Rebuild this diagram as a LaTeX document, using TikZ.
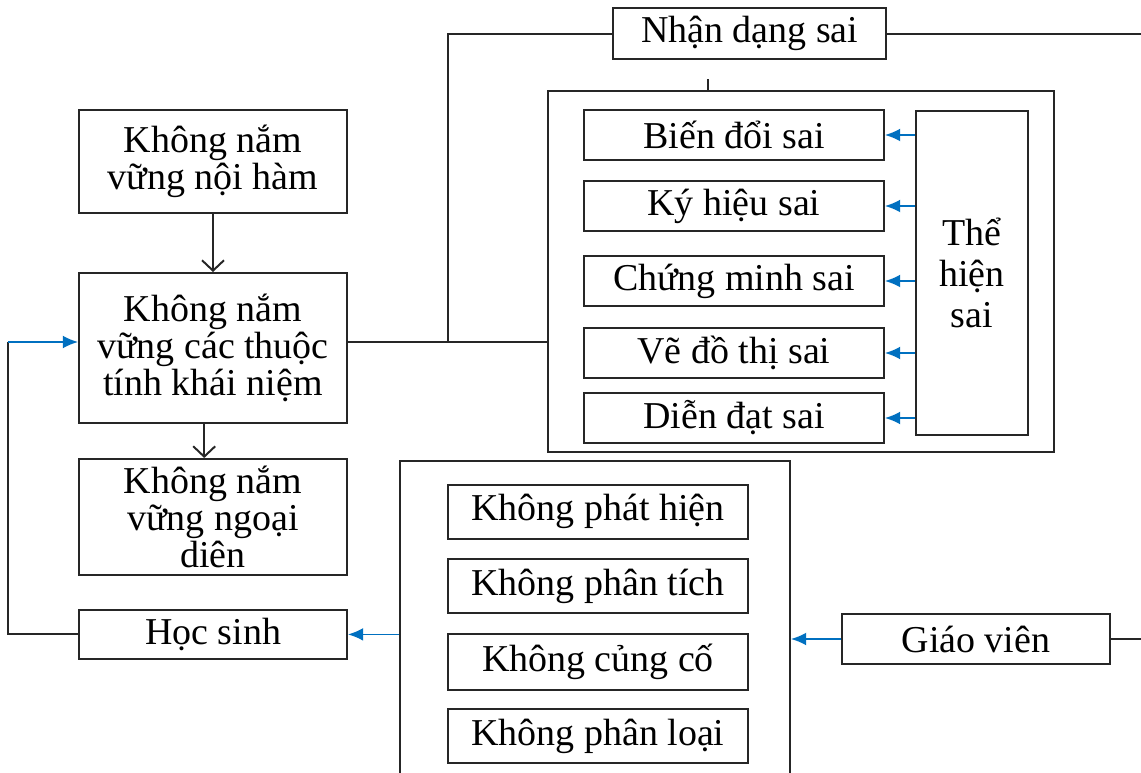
\documentclass[tikz,border=0pt]{standalone}
\usepackage{fontspec}
\setmainfont{Liberation Serif}
\usetikzlibrary{arrows.meta, positioning}
\definecolor{arrowblue}{RGB}{0,112,192}

\begin{document}
\begin{tikzpicture}[
    box/.style={rectangle, draw=black!85, line width=1.4pt, align=center, inner sep=2pt, font=\fontsize{27}{26.5}\selectfont},
    leftbox/.style={box, minimum width=6.7cm},
    errbox/.style={box, minimum width=7.5cm, minimum height=1.25cm},
    groupbox/.style={rectangle, draw=black!85, line width=1.4pt},
    link/.style={draw=black!85, line width=1.4pt},
    downflow/.style={link, -{Straight Barb[length=2.6mm,width=5.5mm]}},
    blueflow/.style={draw=arrowblue, line width=1.1pt, -{Latex[length=3.8mm,width=3.2mm]}}
]
\useasboundingbox (0,0) rectangle (28.525,-19.325);
\clip (0,0) rectangle (28.525,-19.325);

\node[box, minimum width=6.83cm, minimum height=1.28cm] (nhanDang) at (18.74,-0.84) {Nhận dạng sai};
\node[groupbox, minimum width=12.65cm, minimum height=9.03cm] (theHienGroup) at (20.03,-6.79) {};
\node[errbox] (bienDoi) at (18.35,-3.375) {Biến đổi sai};
\node[errbox] (kyHieu) at (18.35,-5.15) {Ký hiệu sai};
\node[errbox] (chungMinh) at (18.35,-7.025) {Chứng minh sai};
\node[errbox] (veDoThi) at (18.35,-8.825) {Vẽ đồ thị sai};
\node[errbox] (dienDat) at (18.35,-10.45) {Diễn đạt sai};
\node[box, minimum width=2.8cm, minimum height=8.1cm, font=\fontsize{27}{29}\selectfont] (theHien) at (24.3,-6.825) {Thể\\hiện\\sai};

\node[leftbox, minimum height=2.575cm] (noiHam) at (5.325,-4.04) {Không nắm\\vững nội hàm};
\node[leftbox, minimum height=3.75cm] (thuocTinh) at (5.325,-8.7) {Không nắm\\vững các thuộc\\tính khái niệm};
\node[leftbox, minimum height=2.9cm] (ngoaiDien) at (5.325,-12.925) {Không nắm\\vững ngoại\\diên};
\node[leftbox, minimum height=1.225cm] (hocSinh) at (5.325,-15.86) {Học sinh};

\node[groupbox, minimum width=9.75cm, minimum height=8.225cm] (khongGroup) at (14.875,-15.64) {};
\node[errbox, minimum height=1.35cm] (phatHien) at (14.95,-12.79) {Không phát hiện};
\node[errbox, minimum height=1.35cm] (phanTich) at (14.95,-14.66) {Không phân tích};
\node[errbox, minimum height=1.4cm] (cungCo) at (14.95,-16.55) {Không củng cố};
\node[errbox, minimum height=1.35cm] (phanLoai) at (14.95,-18.41) {Không phân loại};
\node[leftbox, minimum height=1.25cm] (giaoVien) at (24.4,-15.975) {Giáo viên};

\coordinate (junction) at (11.2,-8.55);
\coordinate (rightEdge) at (28.6,-0.84);
\coordinate (tick) at (17.7,-1.98);
\coordinate (loopTop) at (0.2,-8.55);

\draw[link] (nhanDang.west) -| (junction);
\draw[link] (nhanDang.east) -- (rightEdge);
\draw[link] (tick) -- (tick |- theHienGroup.north);
\draw[link] ([yshift=0.15cm]thuocTinh.east) -- (theHienGroup.west |- junction);
\foreach \err in {bienDoi,kyHieu,chungMinh,veDoThi,dienDat}
    \draw[blueflow] (theHien.west |- \err.east) -- (\err.east);

\draw[downflow] (noiHam) -- (thuocTinh);
\draw[downflow] ([xshift=-0.22cm]thuocTinh.south) -- ([xshift=-0.22cm]ngoaiDien.north);
\draw[link] (hocSinh.west) -| (loopTop);
\draw[blueflow] (loopTop) -- (thuocTinh.west |- loopTop);

\draw[blueflow] (khongGroup.west |- hocSinh.east) -- (hocSinh.east);
\draw[blueflow] (giaoVien.west) -- (khongGroup.east |- giaoVien.west);
\draw[link] (giaoVien.east) -- (giaoVien.east -| rightEdge);
\end{tikzpicture}
\end{document}
